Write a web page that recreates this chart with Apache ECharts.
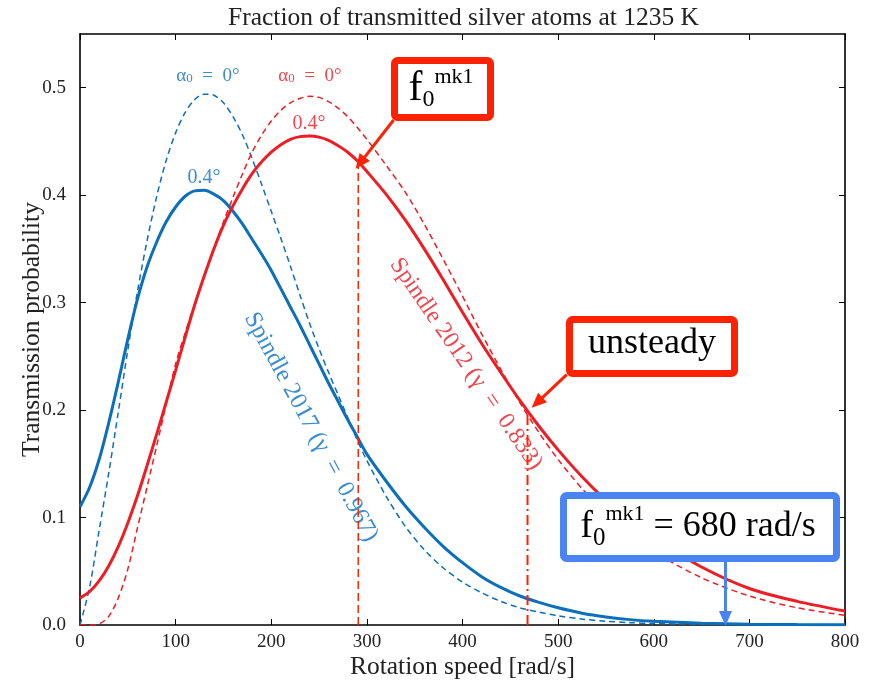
<!DOCTYPE html>
<html>
<head>
<meta charset="utf-8">
<script src="https://cdn.jsdelivr.net/npm/echarts@6/dist/echarts.min.js"></script>
<style>
  html, body { margin: 0; padding: 0; background: #fff; }
  #chart { width: 872px; height: 687px; }
</style>
</head>
<body>
<div id="chart"></div>
<script>
// rotation speed [rad/s]
const speeds = [0, 10, 20, 30, 40, 50, 60, 70, 80, 90, 100, 110, 120, 130, 140, 150, 160, 170, 180, 190,
  200, 210, 220, 230, 240, 250, 260, 270, 280, 290, 300, 320, 340, 360, 380, 400, 420, 440, 460, 480,
  500, 525, 550, 575, 600, 650, 700, 750, 800];

// Spindle 2017, alpha0 = 0.4 deg (solid) and 0 deg (dashed)
const blue04 = [0.110, 0.128, 0.154, 0.188, 0.226, 0.266, 0.303, 0.333, 0.356, 0.375, 0.389, 0.399, 0.404, 0.4045, 0.401, 0.395, 0.385, 0.373, 0.359, 0.345,
  0.330, 0.313, 0.296, 0.279, 0.261, 0.243, 0.225, 0.208, 0.191, 0.175, 0.159, 0.134, 0.111, 0.091, 0.073, 0.058, 0.045, 0.035, 0.027, 0.021,
  0.016, 0.011, 0.0075, 0.005, 0.0035, 0.0017, 0.0008, 0.0004, 0.0002];
const blue00 = [0.000, 0.035, 0.088, 0.141, 0.198, 0.256, 0.310, 0.357, 0.398, 0.432, 0.458, 0.477, 0.489, 0.494, 0.493, 0.486, 0.473, 0.456, 0.434, 0.410,
  0.385, 0.360, 0.334, 0.307, 0.281, 0.257, 0.235, 0.214, 0.193, 0.172, 0.153, 0.120, 0.092, 0.070, 0.053, 0.040, 0.030, 0.022, 0.016, 0.012,
  0.0085, 0.0055, 0.0035, 0.0022, 0.0014, 0.0006, 0.0002, 0.0001, 0.0000];

// Spindle 2012, alpha0 = 0.4 deg (solid) and 0 deg (dashed)
const red04 = [0.025, 0.031, 0.041, 0.055, 0.073, 0.095, 0.120, 0.148, 0.177, 0.207, 0.237, 0.268, 0.298, 0.325, 0.350, 0.372, 0.390, 0.406, 0.420, 0.431,
  0.440, 0.447, 0.452, 0.4545, 0.455, 0.454, 0.451, 0.446, 0.440, 0.432, 0.422, 0.401, 0.377, 0.350, 0.321, 0.291, 0.262, 0.235, 0.209, 0.185,
  0.163, 0.138, 0.116, 0.097, 0.081, 0.054, 0.034, 0.022, 0.013];
const red00 = [0.000, 0.000, 0.001, 0.008, 0.025, 0.052, 0.090, 0.128, 0.166, 0.205, 0.243, 0.272, 0.299, 0.325, 0.350, 0.375, 0.398, 0.420, 0.440, 0.456,
  0.469, 0.479, 0.486, 0.490, 0.492, 0.491, 0.487, 0.481, 0.473, 0.463, 0.452, 0.428, 0.403, 0.373, 0.340, 0.306, 0.271, 0.238, 0.207, 0.179,
  0.154, 0.127, 0.104, 0.084, 0.068, 0.044, 0.027, 0.016, 0.009];

// marker lines
const f0Line = [[291, 0], [291, 0.43]];
const unsteadyLine = [[468, 0], [468, 0.199]];
const f0Arrow = [[328, 0.47], [293, 0.43]];
const unsteadyArrow = [[509, 0.233], [478, 0.207]];
const f680Arrow = [[675, 0.059], [675, 0.006]];

const xTickValues = [0, 100, 200, 300, 400, 500, 600, 700, 800];
const yTickValues = [0, 0.1, 0.2, 0.3, 0.4, 0.5];

const BLUE = "#0b6fba";
const RED = "#ee1d23";
const BLUE_TXT = "#3b8dcf";
const RED_TXT = "#f0474e";
const SERIF = "'Liberation Serif', 'DejaVu Serif', serif";

const pairs = (ys) => speeds.map((x, i) => [x, ys[i]]);

const chart = echarts.init(document.getElementById("chart"), null, { renderer: "canvas" });

const axisCommon = {
  type: "value",
  nameMoveOverlap: false,
  axisLine: { show: true, onZero: false, lineStyle: { color: "#000", width: 1.6 } },
  splitLine: { show: false },
};
const xCommon = {
  ...axisCommon, min: 0, max: 800,
  axisTick: { show: true, inside: true, length: 6, customValues: xTickValues, lineStyle: { color: "#000", width: 1 } },
};
const yCommon = {
  ...axisCommon, min: 0, max: 0.55,
  axisTick: { show: true, inside: true, length: 6, customValues: yTickValues, lineStyle: { color: "#000", width: 1 } },
};

const arrow = (pts, color) => ({
  silent: true,
  symbol: ["none", "triangle"],
  symbolSize: [13, 15],
  label: { show: false },
  lineStyle: { color, width: 3, type: "solid" },
  data: [[{ coord: pts[0] }, { coord: pts[1] }]],
});

const option = {
  animation: false,
  backgroundColor: "#fff",
  title: {
    text: "Fraction of transmitted silver atoms at 1235 K",
    left: 223,
    top: 0,
    textStyle: { fontFamily: SERIF, fontSize: 25.5, fontWeight: "normal", color: "#222" },
  },
  grid: { left: 80, right: 27, top: 34, bottom: 62, outerBoundsMode: "none" },
  xAxis: [
    {
      ...xCommon, position: "bottom",
      name: "Rotation speed [rad/s]", nameLocation: "middle", nameGap: 29,
      nameTextStyle: { fontFamily: SERIF, fontSize: 25.5, color: "#222" },
      axisLabel: { fontFamily: SERIF, fontSize: 19, color: "#222", margin: 8, customValues: xTickValues },
    },
    { ...xCommon, position: "top", axisLabel: { show: false } },
  ],
  yAxis: [
    {
      ...yCommon, position: "left",
      name: "Transmission probability", nameLocation: "middle", nameGap: 35,
      nameTextStyle: { fontFamily: SERIF, fontSize: 25.5, color: "#222" },
      axisLabel: { fontFamily: SERIF, fontSize: 19, color: "#222", margin: 14, customValues: yTickValues, formatter: (v) => v.toFixed(1) },
    },
    { ...yCommon, position: "right", axisLabel: { show: false } },
  ],
  series: [
    {
      name: "Spindle 2017 α0=0°", type: "line", data: pairs(blue00), smooth: 0.3, showSymbol: false,
      lineStyle: { color: BLUE, width: 1.5, type: [6, 4] }, z: 2,
    },
    {
      name: "Spindle 2012 α0=0°", type: "line", data: pairs(red00), smooth: 0.3, showSymbol: false,
      lineStyle: { color: RED, width: 1.5, type: [6, 4] }, z: 2,
    },
    {
      name: "Spindle 2017 0.4°", type: "line", data: pairs(blue04), smooth: 0.3, showSymbol: false,
      lineStyle: { color: BLUE, width: 3 }, z: 3,
    },
    {
      name: "Spindle 2012 0.4°", type: "line", data: pairs(red04), smooth: 0.3, showSymbol: false,
      lineStyle: { color: RED, width: 3 }, z: 3,
      markLine: arrow(f0Arrow, "#ff2200"),
    },
    {
      name: "f0", type: "line", data: f0Line, showSymbol: false,
      lineStyle: { color: "#ff2200", width: 1.5, type: [8, 4] }, z: 4,
      markLine: arrow(unsteadyArrow, "#ff2200"),
    },
    {
      name: "unsteady", type: "line", data: unsteadyLine, showSymbol: false,
      lineStyle: { color: "#ff2200", width: 2, type: [10, 4, 2, 4] }, z: 4,
      markLine: arrow(f680Arrow, "#4a84f2"),
    },
  ],
  graphic: [
    // curve labels
    { type: "text", x: 208, y: 76, style: { text: "α{s|0}  =  0°", fontFamily: SERIF, fontSize: 19, fill: BLUE_TXT, align: "center", verticalAlign: "middle",
      rich: { s: { fontSize: 13, fill: BLUE_TXT, fontFamily: SERIF, verticalAlign: "bottom", lineHeight: 13 } } } },
    { type: "text", x: 310, y: 76, style: { text: "α{s|0}  =  0°", fontFamily: SERIF, fontSize: 19, fill: RED_TXT, align: "center", verticalAlign: "middle",
      rich: { s: { fontSize: 13, fill: RED_TXT, fontFamily: SERIF, verticalAlign: "bottom", lineHeight: 13 } } } },
    { type: "text", x: 204, y: 178, style: { text: "0.4°", fontFamily: SERIF, fontSize: 20, fill: BLUE_TXT, align: "center", verticalAlign: "middle" } },
    { type: "text", x: 309, y: 124, style: { text: "0.4°", fontFamily: SERIF, fontSize: 20, fill: RED_TXT, align: "center", verticalAlign: "middle" } },
    { type: "text", x: 311, y: 427, rotation: -61.6 * Math.PI / 180,
      style: { text: "Spindle 2017 (γ  =  0.967)", fontFamily: SERIF, fontSize: 24.5, fill: BLUE_TXT, align: "center", verticalAlign: "middle" } },
    { type: "text", x: 466, y: 364, rotation: -55.5 * Math.PI / 180,
      style: { text: "Spindle 2012 (γ  =  0.833)", fontFamily: SERIF, fontSize: 24, fill: RED_TXT, align: "center", verticalAlign: "middle" } },

    // annotation boxes
    { type: "rect", shape: { x: 394.5, y: 60.5, width: 96, height: 57, r: 3 }, style: { fill: "#fff", stroke: "#ff2200", lineWidth: 7 }, z: 100 },
    { type: "text", x: 441, y: 89, z: 101, style: {
      text: "{f|f}{s|0}{p|mk1}", align: "center", verticalAlign: "middle", fill: "#000",
      rich: {
        f: { fontFamily: SERIF, fontSize: 42, lineHeight: 46, fill: "#000" },
        s: { fontFamily: SERIF, fontSize: 24, lineHeight: 30, verticalAlign: "bottom", fill: "#000" },
        p: { fontFamily: SERIF, fontSize: 22, lineHeight: 30, verticalAlign: "top", fill: "#000" },
      } } },
    { type: "rect", shape: { x: 569.5, y: 319.5, width: 165, height: 54, r: 3 }, style: { fill: "#fff", stroke: "#ff2200", lineWidth: 7 }, z: 100 },
    { type: "text", x: 652, y: 344, z: 101, style: { text: "unsteady", fontFamily: SERIF, fontSize: 36, fill: "#000", align: "center", verticalAlign: "middle" } },
    { type: "rect", shape: { x: 563.5, y: 495.5, width: 273, height: 63, r: 3 }, style: { fill: "#fff", stroke: "#4a84f2", lineWidth: 7 }, z: 100 },
    { type: "text", x: 698, y: 527, z: 101, style: {
      text: "{f|f}{s|0}{p|mk1}{t| = 680 rad/s}", align: "center", verticalAlign: "middle", fill: "#000",
      rich: {
        f: { fontFamily: SERIF, fontSize: 38, lineHeight: 48, fill: "#000" },
        s: { fontFamily: SERIF, fontSize: 25, lineHeight: 26, verticalAlign: "bottom", fill: "#000" },
        p: { fontFamily: SERIF, fontSize: 22, lineHeight: 30, verticalAlign: "top", fill: "#000" },
        t: { fontFamily: SERIF, fontSize: 36, lineHeight: 48, fill: "#000" },
      } } },
  ],
};

chart.setOption(option);
</script>
</body>
</html>
